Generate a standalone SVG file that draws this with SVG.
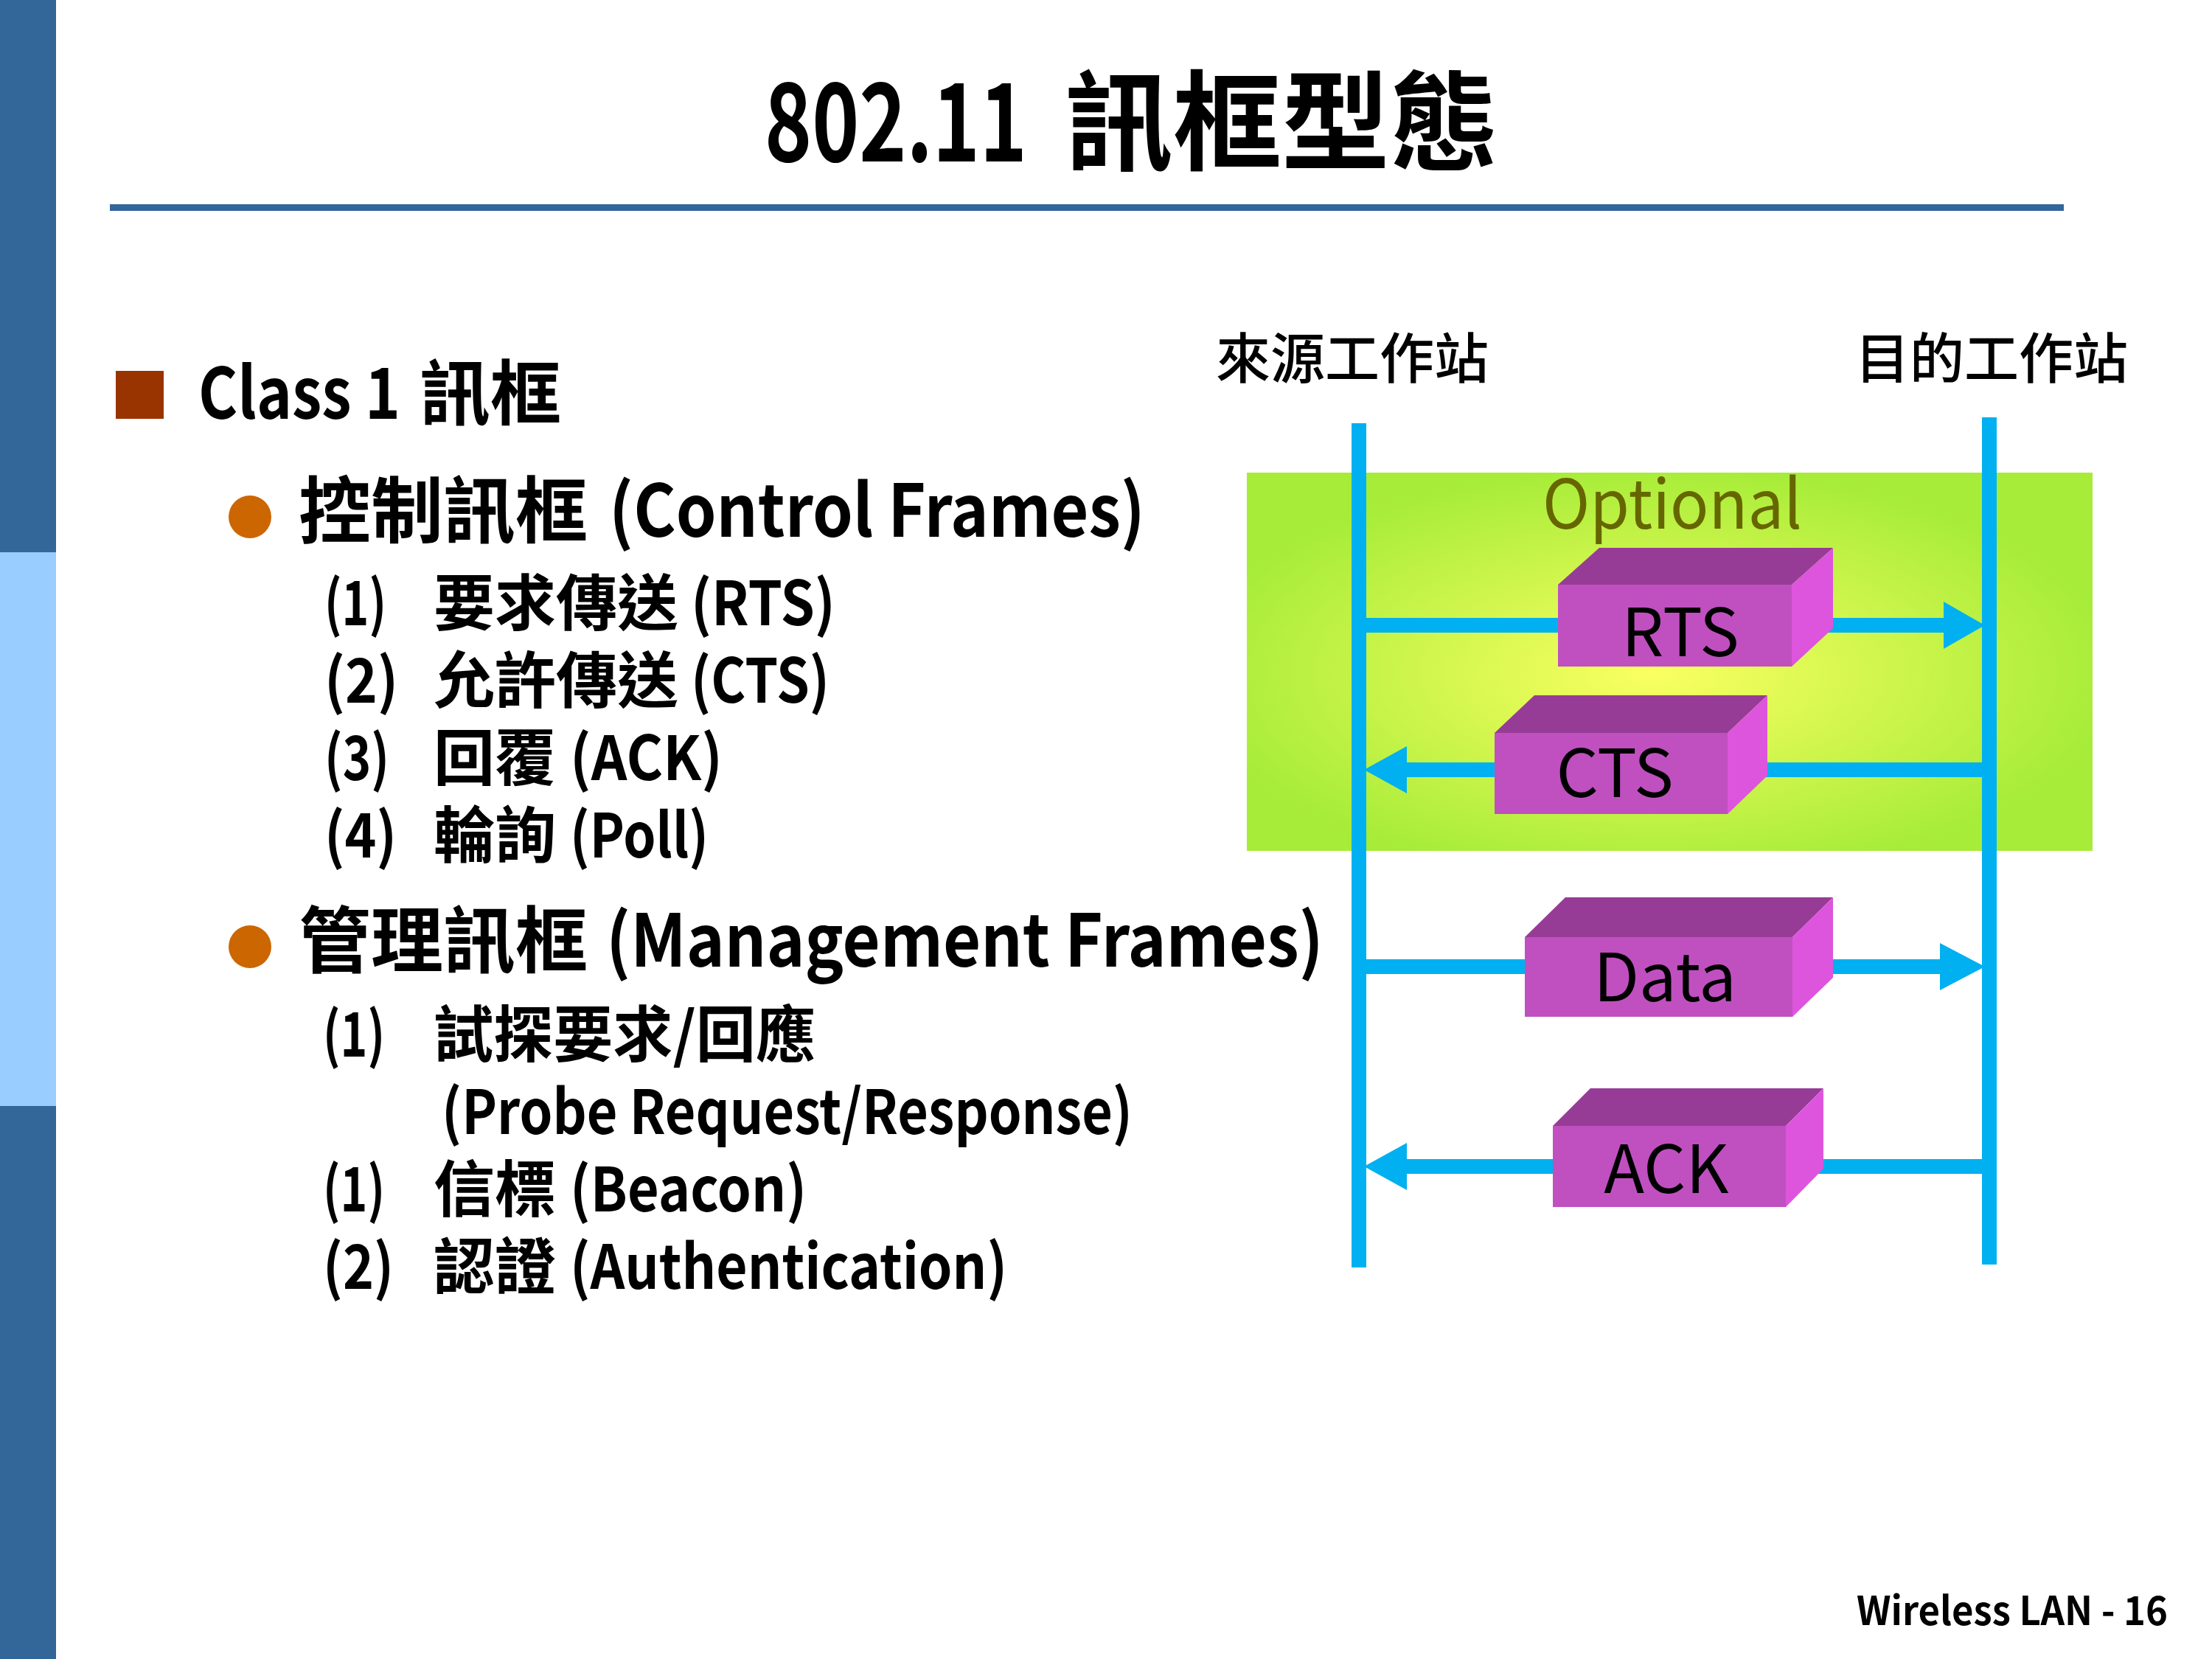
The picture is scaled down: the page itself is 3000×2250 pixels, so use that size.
<svg xmlns="http://www.w3.org/2000/svg" width="3000" height="2250" viewBox="0 0 3000 2250">
<style>
text { font-family: "Noto Sans CJK TC", "Noto Sans", sans-serif; fill: #000; }
.title { font-size: 147px; font-weight: 700; }
.h1 { font-size: 96px; font-weight: 700; }
.h2 { font-size: 98px; font-weight: 700; }
.item { font-size: 83px; font-weight: 700; }
.station { font-size: 74px; font-weight: 500; }
.opt { font-size: 92px; font-weight: 400; fill: #666600; }
.lbl { font-size: 90px; font-weight: 400; text-anchor: middle; }
.foot { font-size: 54px; font-weight: 700; }
.front { fill: #C050C0; }
.top { fill: #963C96; }
.side { fill: #DD55DD; }
.wire { fill: #00B0F0; }
.dot { fill: #CC6600; }
</style>
<defs>
<radialGradient id="glow" cx="0.48" cy="0.53" r="0.55">
<stop offset="0" stop-color="#FAFF62"/>
<stop offset="1" stop-color="#A6EC38"/>
</radialGradient>
</defs>
<rect x="0" y="0" width="3000" height="2250" fill="#FFFFFF"/>
<g id="sidebar">
<rect x="0" y="0" width="76" height="2250" fill="#336699"/>
<rect x="0" y="749" width="76" height="751" fill="#99CCFF"/>
</g>
<g id="title">
<text class="title" x="1037" y="219" textLength="356" lengthAdjust="spacingAndGlyphs">802.11</text>
<text class="title" x="1444" y="219">訊框型態</text>
<rect x="149" y="277" width="2650" height="9" fill="#336699"/>
</g>
<g id="left-text">
<rect x="157" y="503" width="65" height="65" fill="#993300"/>
<text class="h1" x="269" y="568" textLength="274" lengthAdjust="spacingAndGlyphs">Class 1</text>
<text class="h1" x="569" y="568">訊框</text>
<circle class="dot" cx="339" cy="701" r="29"/>
<text class="h2" x="405" y="728">控制訊框</text>
<text class="h2" x="826" y="728" textLength="727" lengthAdjust="spacingAndGlyphs">(Control Frames)</text>
<text class="item" x="440" y="848" textLength="84" lengthAdjust="spacingAndGlyphs">(1)</text>
<text class="item" x="588" y="848">要求傳送</text>
<text class="item" x="937" y="848" textLength="196" lengthAdjust="spacingAndGlyphs">(RTS)</text>
<text class="item" x="440" y="953" textLength="100" lengthAdjust="spacingAndGlyphs">(2)</text>
<text class="item" x="588" y="953">允許傳送</text>
<text class="item" x="937" y="953" textLength="188" lengthAdjust="spacingAndGlyphs">(CTS)</text>
<text class="item" x="440" y="1058" textLength="88" lengthAdjust="spacingAndGlyphs">(3)</text>
<text class="item" x="588" y="1058">回覆</text>
<text class="item" x="773" y="1058" textLength="207" lengthAdjust="spacingAndGlyphs">(ACK)</text>
<text class="item" x="440" y="1163" textLength="98" lengthAdjust="spacingAndGlyphs">(4)</text>
<text class="item" x="588" y="1163">輪詢</text>
<text class="item" x="773" y="1163" textLength="188" lengthAdjust="spacingAndGlyphs">(Poll)</text>
<circle class="dot" cx="339" cy="1284" r="29"/>
<text class="h2" x="405" y="1311">管理訊框</text>
<text class="h2" x="822" y="1311" textLength="973" lengthAdjust="spacingAndGlyphs">(Management Frames)</text>
<text class="item" x="438" y="1433" textLength="84" lengthAdjust="spacingAndGlyphs">(1)</text>
<text class="item" x="588" y="1433" textLength="518" lengthAdjust="spacingAndGlyphs">試探要求/回應</text>
<text class="item" x="599" y="1538" textLength="937" lengthAdjust="spacingAndGlyphs">(Probe Request/Response)</text>
<text class="item" x="438" y="1643" textLength="84" lengthAdjust="spacingAndGlyphs">(1)</text>
<text class="item" x="588" y="1643">信標</text>
<text class="item" x="773" y="1643" textLength="321" lengthAdjust="spacingAndGlyphs">(Beacon)</text>
<text class="item" x="438" y="1748" textLength="96" lengthAdjust="spacingAndGlyphs">(2)</text>
<text class="item" x="588" y="1748">認證</text>
<text class="item" x="773" y="1748" textLength="593" lengthAdjust="spacingAndGlyphs">(Authentication)</text>
</g>
<g id="optional-zone">
<rect x="1691" y="641" width="1147" height="513" fill="url(#glow)"/>
<text class="opt" x="2092" y="717" textLength="352" lengthAdjust="spacingAndGlyphs">Optional</text>
</g>
<g id="station-src">
<text class="station" x="1649" y="513">來源工作站</text>
<rect class="wire" x="1833" y="574" width="20" height="1145"/>
</g>
<g id="station-dst">
<text class="station" x="2516" y="513">目的工作站</text>
<rect class="wire" x="2688" y="566" width="20" height="1149"/>
</g>
<g id="connectors">
<rect class="wire" x="1852" y="838" width="790" height="20"/>
<polygon class="wire" points="2636,816 2692,848 2636,880"/>
<rect class="wire" x="1904" y="1034" width="790" height="20"/>
<polygon class="wire" points="1850,1044 1908,1012 1908,1076"/>
<rect class="wire" x="1852" y="1301" width="785" height="20"/>
<polygon class="wire" points="2631,1279 2692,1311 2631,1343"/>
<rect class="wire" x="1904" y="1572" width="790" height="20"/>
<polygon class="wire" points="1850,1582 1908,1550 1908,1614"/>
</g>
<g id="frame-rts">
<polygon class="top" points="2113,793 2169,743 2486,743 2430,793"/>
<polygon class="side" points="2430,793 2486,743 2486,852 2430,904"/>
<rect class="front" x="2113" y="793" width="317" height="111"/>
<text class="lbl" x="2279" y="890">RTS</text>
</g>
<g id="frame-cts">
<polygon class="top" points="2027,994 2081,943 2397,943 2343,994"/>
<polygon class="side" points="2343,994 2397,943 2397,1052 2343,1104"/>
<rect class="front" x="2027" y="994" width="316" height="110"/>
<text class="lbl" x="2190" y="1081">CTS</text>
</g>
<g id="frame-data">
<polygon class="top" points="2068,1271 2123,1217 2486,1217 2431,1271"/>
<polygon class="side" points="2431,1271 2486,1217 2486,1326 2431,1379"/>
<rect class="front" x="2068" y="1271" width="363" height="108"/>
<text class="lbl" x="2258" y="1358">Data</text>
</g>
<g id="frame-ack">
<polygon class="top" points="2106,1527 2157,1476 2473,1476 2422,1527"/>
<polygon class="side" points="2422,1527 2473,1476 2473,1585 2422,1637"/>
<rect class="front" x="2106" y="1527" width="316" height="110"/>
<text class="lbl" x="2260" y="1618">ACK</text>
</g>
<g id="footer">
<text class="foot" x="2518" y="2204" textLength="422" lengthAdjust="spacingAndGlyphs">Wireless LAN - 16</text>
</g>
</svg>
